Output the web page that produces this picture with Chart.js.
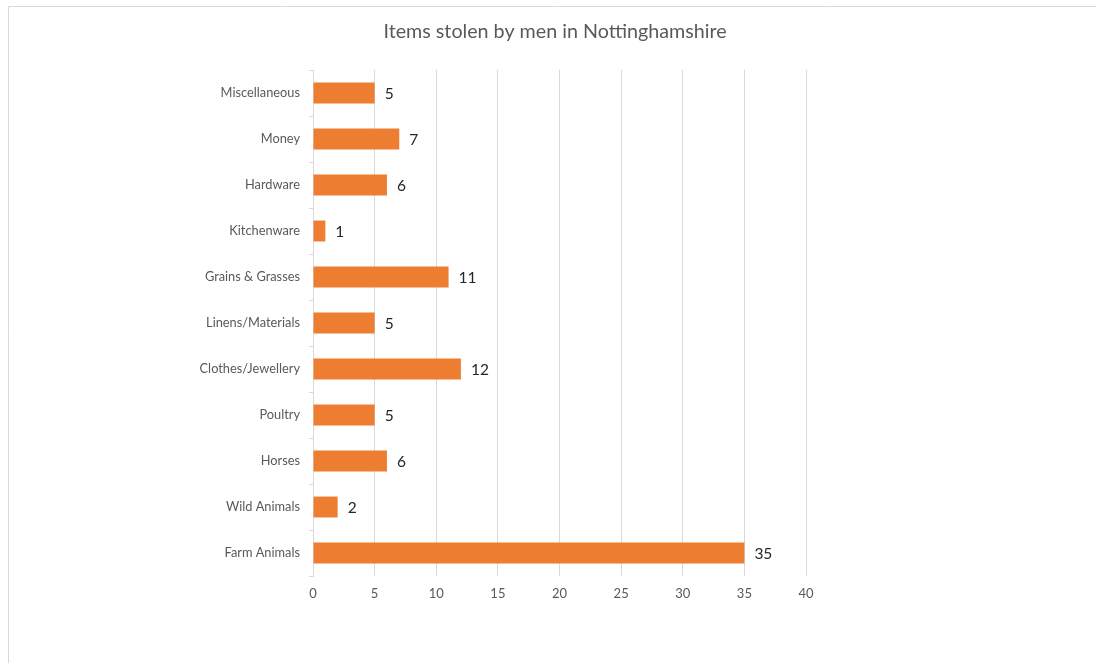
<!DOCTYPE html>
<html><head><meta charset="utf-8">
<script src="https://cdn.jsdelivr.net/npm/chart.js@4"></script>
<style>html,body{margin:0;padding:0;background:#fff;overflow:hidden}#wrap{position:absolute;left:0;top:0;width:1096px;height:663px}</style>
</head><body><div id="wrap"><canvas id="c" width="1096" height="663"></canvas></div>
<script>
const categories = ["Miscellaneous","Money","Hardware","Kitchenware","Grains & Grasses","Linens/Materials","Clothes/Jewellery","Poultry","Horses","Wild Animals","Farm Animals"];
const values = [5,7,6,1,11,5,12,5,6,2,35];
const xTicks = [0,5,10,15,20,25,30,35,40];
const titleText = "Items stolen by men in Nottinghamshire";

const FONT = "Lato, 'Open Sans', sans-serif";
const frame = {
  id:'frame',
  beforeDraw(chart){
    const c = chart.ctx; c.save();
    c.fillStyle='#fff'; c.fillRect(0,0,chart.width,chart.height);
    c.strokeStyle='#d9d9d9'; c.lineWidth=1;
    c.beginPath(); c.moveTo(8.5,chart.height); c.lineTo(8.5,6.5); c.lineTo(chart.width,6.5); c.stroke();
    c.font = "19.7px " + FONT; c.fillStyle = '#595959';
    c.textAlign='center'; c.textBaseline='middle';
    c.fillText(titleText, 555, 32);
    c.restore();
  }
};
const valueLabels = {
  id:'valueLabels',
  afterDatasetsDraw(chart){
    const c = chart.ctx; c.save();
    c.font = "15.5px " + FONT; c.fillStyle = '#262626';
    c.textAlign='left'; c.textBaseline='middle';
    chart.getDatasetMeta(0).data.forEach((bar,i)=>{
      c.fillText(String(values[i]), bar.x + 10, bar.y + 1);
    });
    c.restore();
  }
};
new Chart(document.getElementById('c'), {
  type:'bar',
  data:{ labels: categories, datasets:[{ data: values, backgroundColor:'#ED7D31', barPercentage:0.455, categoryPercentage:1 }]},
  options:{
    indexAxis:'y', responsive:false, animation:false, devicePixelRatio:1,
    layout:{ padding:{ left:0, right:290, top:70, bottom:0 } },
    plugins:{ legend:{display:false}, tooltip:{enabled:false}, title:{display:false} },
    scales:{
      x:{ min:0, max:40, afterBuildTicks(s){ s.ticks = xTicks.map(v=>({value:v})); },
          grid:{ color:'#d9d9d9', drawTicks:false }, border:{display:false},
          ticks:{ color:'#595959', font:{family:FONT, size:13}, padding:10 },
          afterFit(s){ s.height = 87; } },
      y:{ grid:{ drawOnChartArea:false, drawTicks:true, tickLength:4, color:'#d9d9d9', offset:true },
          border:{ display:true, color:'#d9d9d9' },
          ticks:{ color:'#595959', font:{family:FONT, size:12.8}, padding:9 },
          afterFit(s){ s.width = 313; } }
    }
  },
  plugins:[frame, valueLabels]
});
</script></body></html>
